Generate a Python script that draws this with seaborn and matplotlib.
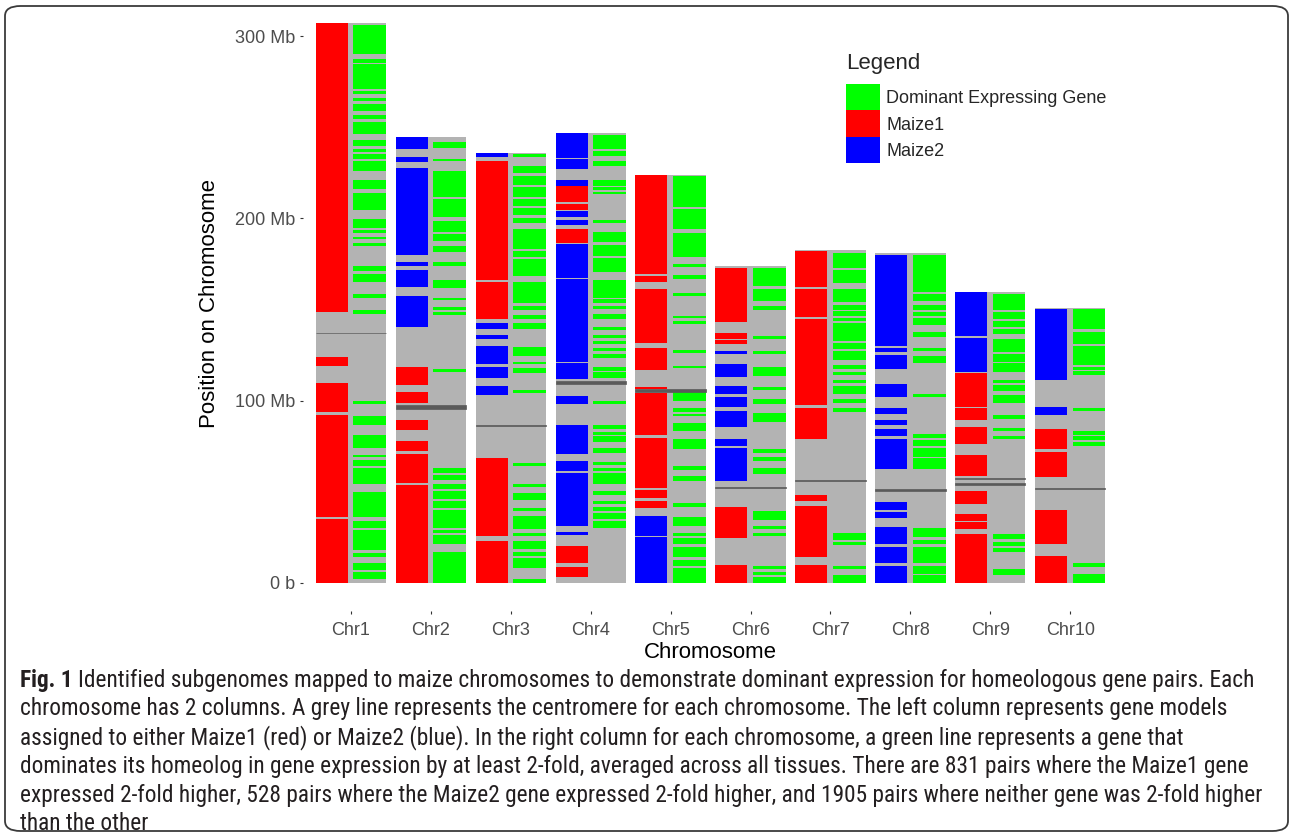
import matplotlib
matplotlib.use("Agg")
import matplotlib.pyplot as plt
from matplotlib import font_manager as fm
from matplotlib.patches import Patch, FancyBboxPatch
import seaborn as sns
import pandas as pd

# ---------------------------------------------------------------- data (Mb)
chromosomes = ["Chr1", "Chr2", "Chr3", "Chr4", "Chr5",
               "Chr6", "Chr7", "Chr8", "Chr9", "Chr10"]
chrom_length_mb = [307.0, 244.4, 235.7, 247.0, 223.9,
                   174.0, 182.4, 181.1, 159.8, 151.0]

centromere_chrom = ["Chr1", "Chr2", "Chr3", "Chr4", "Chr5", "Chr6",
                    "Chr7", "Chr8", "Chr9", "Chr9", "Chr10"]
centromere_start = [136.8, 95.5, 85.8, 109.1, 104.5, 52.0,
                    56.0, 50.5, 53.4, 56.9, 51.3]
centromere_end = [137.3, 97.5, 86.6, 110.5, 106.3, 52.6,
                  56.5, 51.5, 54.8, 57.4, 52.0]

maize1_blocks = {
    "Chr1": [(0, 35.0), (36.1, 92.3), (93.8, 109.8), (119.0, 124.0), (148.5, 307.0)],
    "Chr2": [(0, 53.8), (54.8, 70.6), (72.2, 77.8), (83.7, 89.3), (98.9, 104.9),
             (108.3, 118.4)],
    "Chr3": [(0, 23.1), (25.5, 68.6), (144.5, 164.9), (165.9, 231.7)],
    "Chr4": [(3.0, 8.6), (10.6, 20.1), (186.6, 194.0), (204.7, 208.1), (208.7, 217.7)],
    "Chr5": [(41.1, 44.7), (46.7, 50.8), (52.2, 79.7), (80.9, 104.3), (106.4, 107.4),
             (117.0, 129.0), (131.8, 161.1), (165.1, 168.5), (169.5, 223.9)],
    "Chr6": [(0, 10.0), (24.7, 41.5), (130.8, 133.0), (134.0, 137.0), (143.1, 172.8)],
    "Chr7": [(0, 10.0), (14.0, 42.1), (45.1, 48.2), (78.9, 95.7), (97.3, 144.5),
             (145.9, 161.1), (162.5, 182.0)],
    "Chr8": [],
    "Chr9": [(0, 26.7), (29.7, 33.1), (34.1, 37.5), (43.1, 50.2), (58.8, 70.2),
             (76.2, 85.3), (89.3, 95.7), (96.7, 115.0)],
    "Chr10": [(0, 14.6), (21.1, 40.1), (58.2, 71.8), (73.2, 84.3)],
}

maize2_blocks = {
    "Chr1": [],
    "Chr2": [(140.4, 157.1), (162.5, 171.5), (174.0, 176.0), (180.0, 227.7),
             (231.1, 233.7), (238.2, 244.4)],
    "Chr3": [(102.9, 107.7), (112.4, 118.4), (119.8, 130.0), (133.8, 136.2),
             (139.0, 142.5), (233.5, 235.7)],
    "Chr4": [(26.1, 28.1), (31.1, 60.2), (61.2, 66.6), (70.8, 86.7), (98.3, 102.3),
             (111.8, 120.4), (121.4, 166.5), (167.5, 186.0), (196.6, 199.0),
             (200.6, 204.1), (217.7, 221.1), (227.1, 232.3), (233.1, 246.9)],
    "Chr5": [(0, 25.1), (25.5, 36.7)],
    "Chr6": [(55.6, 74.2), (75.2, 78.9), (85.7, 94.3), (96.3, 101.7), (103.7, 107.7),
             (113.0, 119.8), (125.4, 127.4)],
    "Chr7": [],
    "Chr8": [(0, 9.4), (10.6, 19.5), (21.1, 30.5), (35.5, 38.7), (40.1, 44.1),
             (62.2, 78.9), (80.3, 84.3), (86.3, 89.3), (92.7, 95.7), (101.7, 108.9),
             (117.4, 125.0), (126.4, 128.8), (129.8, 180.0)],
    "Chr9": [(115.8, 134.4), (135.4, 159.8)],
    "Chr10": [(92.3, 96.7), (111.4, 150.5)],
}

dominant_blocks = {
    "Chr1": [(290.0, 306.0), (285.5, 287.5), (270.9, 284.9), (268.0, 269.9),
             (264.4, 266.2), (258.8, 262.8), (254.3, 256.8), (246.2, 252.8),
             (239.8, 242.8), (236.2, 237.8), (232.8, 235.4), (225.7, 231.7),
             (216.1, 221.1), (204.7, 213.7), (194.6, 199.6), (192.0, 193.6),
             (188.6, 190.0), (184.6, 186.6), (171.1, 173.6), (165.1, 169.5),
             (156.5, 158.5), (147.5, 149.5), (97.9, 99.7), (86.3, 91.3),
             (74.2, 80.9), (68.8, 70.2), (64.2, 67.2), (54.2, 62.8), (36.1, 49.8),
             (30.1, 34.1), (18.1, 29.1), (14.0, 16.1), (7.0, 11.0), (2.0, 6.0)],
    "Chr2": [(238.8, 241.8), (231.3, 232.7), (211.7, 225.7), (200.6, 210.7),
             (192.6, 198.6), (187.6, 191.6), (181.6, 184.6), (174.0, 176.0),
             (161.9, 165.9), (154.9, 156.5), (149.5, 151.5), (147.1, 148.5),
             (115.8, 117.4), (60.2, 63.2), (56.2, 59.2), (51.2, 54.2), (46.1, 50.2),
             (41.1, 45.1), (30.1, 40.1), (27.1, 29.1), (21.1, 26.1), (0, 17.1)],
    "Chr3": [(233.7, 235.2), (224.7, 228.7), (218.1, 223.3), (211.7, 217.1),
             (206.7, 210.7), (201.6, 205.7), (197.6, 200.0), (183.2, 194.0),
             (178.6, 182.0), (168.5, 177.6), (153.5, 164.9), (149.5, 151.9),
             (144.5, 147.1), (139.4, 142.5), (124.4, 129.4), (120.0, 121.4),
             (115.0, 117.8), (104.3, 105.7), (64.2, 65.6), (52.6, 54.2), (45.5, 49.2),
             (39.1, 41.1), (29.5, 36.5), (25.5, 27.5), (18.7, 23.1), (14.6, 17.1),
             (8.0, 13.4), (0, 2.0)],
    "Chr4": [(237.8, 245.8), (234.1, 236.8), (228.7, 231.7), (217.7, 221.1),
             (215.3, 217.1), (213.1, 214.7), (197.6, 199.0), (187.2, 192.6),
             (179.2, 185.2), (170.5, 178.0), (156.5, 165.9), (153.5, 155.5),
             (150.1, 152.1), (144.5, 147.5), (138.8, 140.4), (134.4, 135.8),
             (130.8, 132.4), (127.4, 128.8), (123.4, 125.8), (116.4, 118.4),
             (112.4, 115.8), (98.3, 99.7), (84.3, 86.3), (81.3, 82.7), (77.2, 80.3),
             (71.2, 74.2), (64.8, 66.2), (61.2, 63.2), (54.2, 60.2), (48.2, 50.2),
             (43.1, 45.1), (39.1, 41.5), (35.1, 38.1), (30.1, 34.1)],
    "Chr5": [(206.1, 223.3), (194.0, 205.1), (178.6, 192.0), (173.2, 175.2),
             (166.9, 168.9), (157.5, 159.1), (145.1, 146.5), (141.9, 143.9),
             (126.2, 127.8), (117.8, 119.0), (99.7, 105.3), (93.7, 95.7), (91.3, 92.7),
             (83.3, 87.7), (73.2, 78.7), (61.6, 64.2), (55.6, 58.8), (41.5, 43.5),
             (31.1, 36.1), (25.5, 27.5), (21.1, 24.7), (14.0, 19.5), (9.0, 12.6),
             (0, 8.0)],
    "Chr6": [(163.1, 172.6), (154.5, 161.1), (149.5, 151.9), (134.0, 135.4),
             (125.4, 127.4), (113.4, 118.4), (105.7, 107.3), (98.3, 100.9),
             (88.3, 93.3), (71.2, 73.6), (66.8, 69.2), (59.6, 62.8), (34.7, 39.1),
             (29.5, 31.1), (25.5, 27.1), (7.4, 9.4), (4.0, 6.0), (0, 3.0)],
    "Chr7": [(172.6, 181.2), (164.5, 171.9), (153.9, 161.1), (149.5, 152.5),
             (146.5, 148.9), (143.5, 145.1), (132.4, 142.5), (128.4, 131.4),
             (122.4, 127.4), (117.4, 119.4), (113.8, 115.8), (109.4, 111.4),
             (103.7, 107.7), (98.9, 100.9), (93.7, 95.7), (23.5, 27.1), (20.7, 22.1),
             (7.4, 9.0), (0, 4.0)],
    "Chr8": [(159.5, 180.0), (154.5, 158.5), (149.5, 152.5), (146.5, 148.5),
             (141.5, 145.5), (135.0, 137.8), (127.0, 129.0), (120.4, 124.4),
             (101.7, 103.7), (79.7, 81.7), (75.2, 78.3), (69.2, 74.2), (62.2, 68.2),
             (25.1, 30.1), (21.1, 23.5), (11.0, 19.5), (5.0, 9.0), (0, 4.0)],
    "Chr9": [(149.5, 158.5), (144.5, 148.5), (140.4, 143.5), (136.4, 139.4),
             (126.4, 133.8), (121.4, 125.4), (115.4, 120.4), (109.4, 111.4),
             (105.3, 108.3), (98.9, 103.3), (89.7, 92.3), (83.3, 84.9), (78.9, 80.7),
             (24.1, 26.7), (20.1, 22.1), (17.1, 19.1), (4.0, 7.4)],
    "Chr10": [(139.4, 150.5), (131.0, 137.8), (119.4, 130.0), (117.0, 118.4),
              (113.8, 116.0), (94.3, 95.7), (81.3, 83.3), (78.3, 80.3), (75.2, 77.3),
              (8.4, 11.0), (0, 5.0)],
}

y_ticks_mb = [0, 100, 200, 300]
y_tick_labels = ["0 b", "100 Mb", "200 Mb", "300 Mb"]
legend_labels = ["Dominant Expressing Gene", "Maize1", "Maize2"]
legend_colors = ["#00ff00", "#ff0000", "#0000ff"]

caption_lead = "Fig. 1"
caption_lines = [
    "Identified subgenomes mapped to maize chromosomes to demonstrate dominant expression for homeologous gene pairs. Each",
    "chromosome has 2 columns. A grey line represents the centromere for each chromosome. The left column represents gene models",
    "assigned to either Maize1 (red) or Maize2 (blue). In the right column for each chromosome, a green line represents a gene that",
    "dominates its homeolog in gene expression by at least 2-fold, averaged across all tissues. There are 831 pairs where the Maize1 gene",
    "expressed 2-fold higher, 528 pairs where the Maize2 gene expressed 2-fold higher, and 1905 pairs where neither gene was 2-fold higher",
    "than the other",
]

# ---------------------------------------------------------------- figure
sns.set_theme(style="white")
plt.rcParams["font.family"] = ["Liberation Sans", "DejaVu Sans"]

W, H = 1293, 835
fig = plt.figure(figsize=(W / 100, H / 100), dpi=100)


def fx(x):
    return x / W


def fy(y):
    return 1 - y / H


ax = fig.add_axes([fx(303), fy(610.7), (1118.2 - 303) / W, (610.7 + 4.6) / H])

# chromosome backgrounds
lengths = pd.DataFrame({"chrom": chromosomes, "length": chrom_length_mb})
sns.barplot(data=lengths, x="chrom", y="length", color="#b3b3b3", saturation=1,
            width=0.88, linewidth=0, ax=ax, zorder=1)

pos = {c: i for i, c in enumerate(chromosomes)}


def draw_blocks(blocks, color, x0, x1, z=2):
    rows = [(pos[c], lo, hi) for c, segs in blocks.items() for lo, hi in segs]
    df = pd.DataFrame(rows, columns=["x", "lo", "hi"])
    ax.bar(df["x"] + (x0 + x1) / 2, df["hi"] - df["lo"], bottom=df["lo"],
           width=x1 - x0, color=color, edgecolor="none", linewidth=0, zorder=z)


draw_blocks(maize1_blocks, "#ff0000", -0.44, -0.04)
draw_blocks(maize2_blocks, "#0000ff", -0.44, -0.04)
draw_blocks(dominant_blocks, "#00ff00", 0.03, 0.44)

cen = pd.DataFrame({"x": [pos[c] for c in centromere_chrom],
                    "lo": centromere_start, "hi": centromere_end})
ax.bar(cen["x"], cen["hi"] - cen["lo"], bottom=cen["lo"], width=0.88,
       color="#5a5a5a", edgecolor="#5a5a5a", linewidth=0.5, zorder=3)

ax.set_xlim(-0.6, 9.6)
ax.set_ylim(-15.35, 322.35)
ax.set_yticks(y_ticks_mb)
ax.set_yticklabels(y_tick_labels)
sns.despine(ax=ax, left=True, bottom=True)
ax.tick_params(axis="both", which="major", left=True, bottom=True, length=2.4,
               width=0.8, color="#333333", labelcolor="#4d4d4d", labelsize=13,
               direction="out", pad=3)
ax.tick_params(axis="x", pad=5.5)
ax.set_xlabel("Chromosome", fontsize=16, color="black", labelpad=2.6)
ax.set_ylabel("Position on Chromosome", fontsize=16, color="black", labelpad=11)
ax.set_facecolor("white")

# legend
handles = [Patch(facecolor=c, edgecolor="none") for c in legend_colors]
fig.text(fx(846), fy(63), "Legend", fontsize=16, ha="left", va="center")
fig.legend(handles, legend_labels, loc="upper left", bbox_to_anchor=(fx(846), fy(84)),
           frameon=False, fontsize=13, handlelength=1.88, handleheight=1.88,
           handletextpad=0.35, labelspacing=0, borderpad=0, borderaxespad=0)

# caption: prefer a narrow face when one is installed
ttf = fm.fontManager.ttflist
names = {f.name for f in ttf}
cap_kw = {"family": ["Roboto", "DejaVu Sans"]}
for narrow in ["Liberation Sans Narrow", "Roboto Condensed", "Open Sans Condensed",
               "Noto Sans Condensed", "DejaVu Sans Condensed"]:
    if narrow in names:
        cap_kw = {"family": [narrow, "DejaVu Sans"]}
        break
else:
    for fam in ["Noto Sans", "Open Sans", "DejaVu Sans"]:
        if any(f.name == fam and str(f.stretch) in ("condensed", "semi-condensed", "600", "700")
               for f in ttf):
            cap_kw = {"family": [fam], "fontstretch": "condensed"}
            break

renderer = fig.canvas.get_renderer()
cap_size = 14.0
line_y = [680 + i * 28.8 for i in range(len(caption_lines))]

lead = fig.text(fx(20), fy(line_y[0]), caption_lead, fontsize=cap_size,
                fontweight="bold", va="center", ha="left", color="#231f20", **cap_kw)
texts = []
for i, line in enumerate(caption_lines):
    texts.append(fig.text(fx(20), fy(line_y[i]), line, fontsize=cap_size,
                          va="center", ha="left", color="#231f20", **cap_kw))


def place_first():
    lw = lead.get_window_extent(renderer).width
    texts[0].set_x(fx(20 + lw + 5))
    return lw


lw = place_first()
first_w = lw + 5 + texts[0].get_window_extent(renderer).width
cap_size *= 1242 / first_w
lead.set_fontsize(cap_size)
for t in texts:
    t.set_fontsize(cap_size)
place_first()

# rounded outer frame
frame = FancyBboxPatch((fx(5), fy(831)), fx(1288) - fx(5), fy(6) - fy(831),
                       boxstyle="round,pad=0,rounding_size=0.012",
                       transform=fig.transFigure, fill=False,
                       edgecolor="#3a3a3a", linewidth=1.3, zorder=0)
fig.patches.append(frame)

fig.savefig("out.png", dpi=100)
